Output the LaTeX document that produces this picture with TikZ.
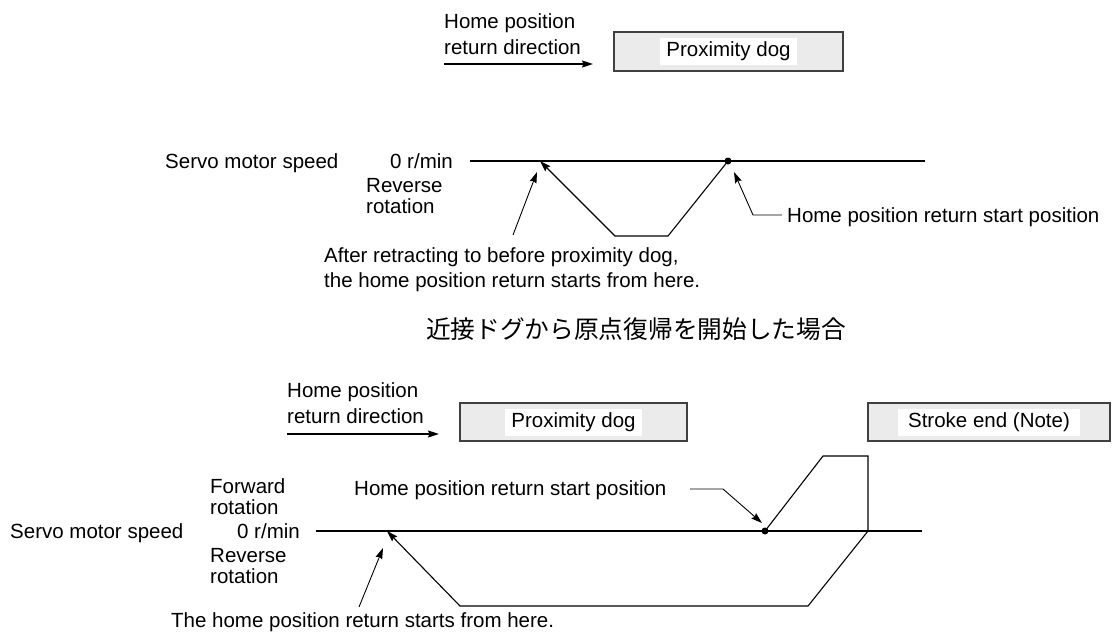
\documentclass[tikz,border=0pt]{standalone}
\usepackage{fontspec}
\setmainfont{Liberation Sans}
\newfontfamily\cjkfont{Noto Sans CJK JP}
\usetikzlibrary{arrows.meta}
\newcommand\twolines[2]{\vtop{\hbox{#1}\hbox{#2}}}
\begin{document}
\begin{tikzpicture}[x=1pt,y=-1pt,
  lbl/.style={inner sep=0pt, font=\fontsize{20.5}{25}\selectfont},
  ln/.style={line width=1.1pt, line join=miter},
  arr/.style={ln, -{Stealth[length=11pt,width=7pt,inset=1.5pt]}},
  lead/.style={line width=0.9pt, -{Stealth[length=11pt,width=7pt,inset=1.5pt]}},
  dogbox/.style={draw=black!75, line width=1.4pt, fill=black!8, inner sep=0pt, minimum height=39pt},
  boxlbl/.style={fill=white, inner sep=0pt, minimum height=27pt, font=\fontsize{20.5}{25}\selectfont},
  dotmark/.style={circle, fill=black, inner sep=0pt, minimum size=7pt},
]
\fill[white] (0,0) rectangle (1120,633);
\useasboundingbox (0,0) rectangle (1120,633);

% ---------- upper diagram ----------
\node[lbl, anchor=base west, font=\fontsize{20.5}{26}\selectfont] (dirA) at (444,28) {\twolines{Home position}{return direction}};
\coordinate (dirAs) at (444,64);
\coordinate (dirAe) at (593,64);
\draw[ln, -{Stealth[length=11pt,width=7pt,inset=1.5pt]}] (dirAs) -- (dirAe);

\node[dogbox, minimum width=229pt] (dogA) at (728.5,51.5) {};
\node[boxlbl, minimum width=137pt] (dogAl) at (dogA.center) {Proximity dog};

\node[lbl, anchor=base west] (servoA) at (165,168) {Servo motor speed};
\node[lbl, anchor=base east] (zeroA) at (453,168) {0 r/min};
\node[lbl, anchor=base west, font=\fontsize{20.5}{21}\selectfont] (revA) at (366,192) {\twolines{Reverse}{rotation}};
\coordinate (axAs) at (470,161);
\coordinate (axAe) at (925,161);
\draw[ln] (axAs) -- (axAe);

\coordinate (pA1) at (540,161);
\coordinate (pA2) at (615,236);
\coordinate (pA3) at (668,236);
\node[dotmark] (dotA) at (728,161) {};
\draw[arr] (dotA.center) -- (pA3) -- (pA2) -- (pA1);

\node[lbl, anchor=base west, font=\fontsize{20.5}{25}\selectfont] (afterA) at (324,262) {\twolines{After retracting to before proximity dog,}{the home position return starts from here.}};
\coordinate (ldA1) at (513,235);
\coordinate (ldA2) at (537,172);
\draw[lead] (ldA1) -- (ldA2);

\node[lbl, anchor=base west] (startA) at (787,222) {Home position return start position};
\coordinate (sA1) at (782,215);
\coordinate (sA2) at (753,215);
\coordinate (sA3) at (734,172);
\draw[lead] (sA1) -- (sA2) -- (sA3);

% ---------- title ----------
\node[inner sep=0pt, font=\cjkfont\fontsize{24.7}{30}\selectfont] (title) at (636,329) {近接ドグから原点復帰を開始した場合};

% ---------- lower diagram ----------
\node[lbl, anchor=base west, font=\fontsize{20.5}{26}\selectfont] (dirB) at (287,397) {\twolines{Home position}{return direction}};
\coordinate (dirBs) at (287,434);
\coordinate (dirBe) at (439,434);
\draw[ln, -{Stealth[length=11pt,width=7pt,inset=1.5pt]}] (dirBs) -- (dirBe);

\node[dogbox, minimum width=227pt, minimum height=38pt] (dogB) at (573.5,422) {};
\node[boxlbl, minimum width=137pt] (dogBl) at (dogB.center) {Proximity dog};
\node[dogbox, minimum width=242pt, minimum height=38pt] (strokeB) at (989,422) {};
\node[boxlbl, minimum width=182pt] (strokeBl) at (strokeB.center) {Stroke end (Note)};

\node[lbl, anchor=base west] (servoB) at (10,538) {Servo motor speed};
\node[lbl, anchor=base east] (zeroB) at (300,538) {0 r/min};
\node[lbl, anchor=base west, font=\fontsize{20.5}{21}\selectfont] (fwdB) at (210,493) {\twolines{Forward}{rotation}};
\node[lbl, anchor=base west, font=\fontsize{20.5}{21}\selectfont] (revB) at (210,562) {\twolines{Reverse}{rotation}};
\coordinate (axBs) at (316,531);
\coordinate (axBe) at (922,531);
\draw[ln] (axBs) -- (axBe);

\node[dotmark] (dotB) at (765,531) {};
\coordinate (pB1) at (823,456);
\coordinate (pB2) at (868,456);
\coordinate (pB3) at (868,531);
\coordinate (pB4) at (808,606);
\coordinate (pB5) at (460,606);
\coordinate (pB6) at (387,531);
\draw[arr] (dotB.center) -- (pB1) -- (pB2) -- (pB3) -- (pB4) -- (pB5) -- (pB6);

\node[lbl, anchor=base west] (startB) at (354,495) {Home position return start position};
\coordinate (sB1) at (690,489);
\coordinate (sB2) at (723,489);
\coordinate (sB3) at (762,523);
\draw[lead] (sB1) -- (sB2) -- (sB3);

\node[lbl, anchor=base west] (hereB) at (171,627) {The home position return starts from here.};
\coordinate (ldB1) at (359,607);
\coordinate (ldB2) at (383,548);
\draw[lead] (ldB1) -- (ldB2);
\end{tikzpicture}
\end{document}
